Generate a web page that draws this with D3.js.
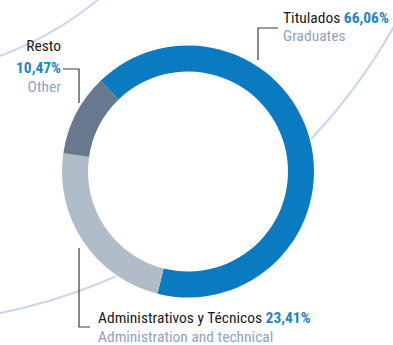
<!DOCTYPE html>
<html>
<head>
<meta charset="utf-8">
<script src="https://cdnjs.cloudflare.com/ajax/libs/d3/7.8.5/d3.min.js"></script>
<style>
  html, body { margin: 0; padding: 0; background: #fff; }
  svg { display: block; }
  text { font-family: "Liberation Sans Narrow", "Arial Narrow", "Roboto Condensed", "Liberation Sans", sans-serif; }
</style>
</head>
<body>
<svg id="chart" width="393" height="345"></svg>
<script>
// Staff breakdown by category (percent of total)
const categories = ["Titulados", "Administrativos y Técnicos", "Resto"];
const subtitles  = ["Graduates", "Administration and technical", "Other"];
const shares     = [66.06, 23.41, 10.47];
const shareLabels = ["66,06%", "23,41%", "10,47%"];
const colors     = ["#0a7bc1", "#b0bcc7", "#68788e"];

const svg = d3.select("#chart");
const cx = 188, cy = 171.5, outerR = 126, innerR = 100;

// decorative background rings
const ringCenter = [-118, -263];
svg.append("circle").attr("cx", ringCenter[0]).attr("cy", ringCenter[1]).attr("r", 340)
  .attr("fill", "none").attr("stroke", "#c8d7ed").attr("stroke-width", 2);
svg.append("circle").attr("cx", ringCenter[0]).attr("cy", ringCenter[1]).attr("r", 588)
  .attr("fill", "none").attr("stroke", "#c8d7ed").attr("stroke-width", 2);

const g = svg.append("g").attr("transform", `translate(${cx},${cy})`);
g.append("circle").attr("r", outerR + 1.5).attr("fill", "#fff");

const pie = d3.pie().sort(null).value(d => d)
  .startAngle(-43.9 * Math.PI / 180)
  .endAngle((360 - 43.9) * Math.PI / 180);
const arc = d3.arc().innerRadius(innerR).outerRadius(outerR);

g.selectAll("path.slice").data(pie(shares)).join("path")
  .attr("class", "slice")
  .attr("d", arc)
  .attr("fill", (d, i) => colors[i]);

// leader lines
const leaders = [
  [[258, 60], [258, 28], [278, 28]],
  [[79, 248], [79, 327], [90, 327]],
  [[63, 69], [79, 69], [79, 103]]
];
svg.selectAll("path.leader").data(leaders).join("path")
  .attr("class", "leader")
  .attr("d", d3.line())
  .attr("fill", "none").attr("stroke", "#3a3a3a").attr("stroke-width", 1.2);

const fs = 15.5;
// Titulados
const t0 = svg.append("text").attr("x", 283).attr("y", 23).attr("font-size", fs);
t0.append("tspan").attr("fill", "#1a1a1a").text(categories[0] + " ");
t0.append("tspan").attr("fill", "#1b86c8").attr("font-weight", "bold").text(shareLabels[0]);
svg.append("text").attr("x", 283).attr("y", 41).attr("font-size", fs).attr("fill", "#8ea3c3").text(subtitles[0]);

// Administrativos y Técnicos
const t1 = svg.append("text").attr("x", 98).attr("y", 323).attr("font-size", fs);
t1.append("tspan").attr("fill", "#1a1a1a").text(categories[1] + " ");
t1.append("tspan").attr("fill", "#1b86c8").attr("font-weight", "bold").text(shareLabels[1]);
svg.append("text").attr("x", 98).attr("y", 342).attr("font-size", fs).attr("fill", "#8ea3c3").text(subtitles[1]);

// Resto
svg.append("text").attr("x", 61).attr("y", 51).attr("font-size", fs).attr("text-anchor", "end")
  .attr("fill", "#1a1a1a").text(categories[2]);
svg.append("text").attr("x", 61).attr("y", 73).attr("font-size", fs).attr("text-anchor", "end")
  .attr("fill", "#1b86c8").attr("font-weight", "bold").text(shareLabels[2]);
svg.append("text").attr("x", 61).attr("y", 92).attr("font-size", fs).attr("text-anchor", "end")
  .attr("fill", "#8ea3c3").text(subtitles[2]);
</script>
</body>
</html>
